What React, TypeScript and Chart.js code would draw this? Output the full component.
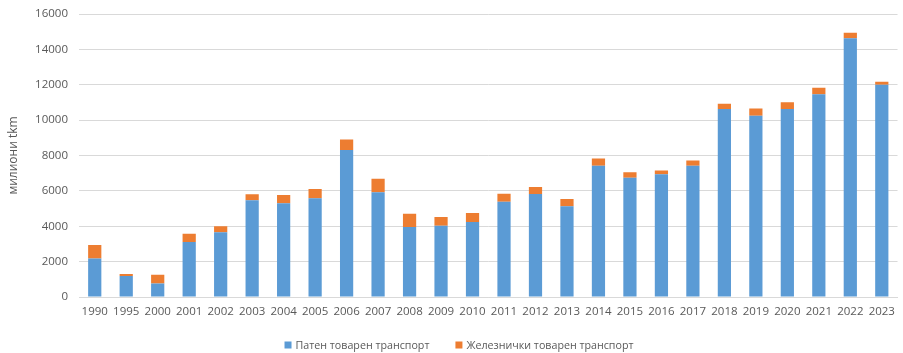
import React, { useEffect, useRef } from 'react';
import { Chart, registerables } from 'chart.js';

Chart.register(...registerables);

const years = ['1990', '1995', '2000', '2001', '2002', '2003', '2004', '2005', '2006', '2007', '2008', '2009', '2010', '2011', '2012', '2013', '2014', '2015', '2016', '2017', '2018', '2019', '2020', '2021', '2022', '2023'];
const roadFreight = [2170, 1190, 760, 3110, 3655, 5465, 5296, 5578, 8310, 5917, 3957, 4032, 4240, 5389, 5823, 5125, 7424, 6746, 6934, 7424, 10628, 10251, 10628, 11456, 14622, 12003];
const railFreight = [770, 110, 500, 470, 340, 340, 470, 530, 600, 770, 750, 490, 510, 450, 400, 415, 400, 300, 225, 300, 300, 400, 380, 380, 320, 170];
const seriesNames = ['Патен товарен транспорт', 'Железнички товарен транспорт'];
const seriesColors = ['#5B9BD5', '#ED7D31'];
const yTitle = 'милиони tkm';

const FONT = '"Open Sans", "Noto Sans", sans-serif';
const TEXT = '#595959';

const legendPlugin = {
  id: 'bottomLegend',
  afterDraw(chart: any) {
    const ctx = chart.ctx;
    ctx.save();
    ctx.font = `10.7px ${FONT}`;
    ctx.textBaseline = 'middle';
    ctx.textAlign = 'left';
    const box = 7;
    const gapBoxText = 4;
    const gapItems = 26;
    const items = chart.data.datasets.map((d: any) => ({
      label: d.label,
      color: d.backgroundColor,
      w: box + gapBoxText + ctx.measureText(d.label).width,
    }));
    const total = items.reduce((s: number, it: any) => s + it.w, 0) + gapItems * (items.length - 1);
    let x = 459 - total / 2;
    const y = 345;
    items.forEach((it: any) => {
      ctx.fillStyle = it.color;
      ctx.fillRect(x, y - box / 2, box, box);
      ctx.fillStyle = TEXT;
      ctx.fillText(it.label, x + box + gapBoxText, y + 0.5);
      x += it.w + gapItems;
    });
    ctx.restore();
  },
};

export default function App() {
  const ref = useRef<HTMLCanvasElement | null>(null);
  useEffect(() => {
    if (!ref.current) return;
    const chart = new Chart(ref.current, {
      type: 'bar',
      data: {
        labels: years,
        datasets: [
          { label: seriesNames[0], data: roadFreight, backgroundColor: seriesColors[0], barPercentage: 0.42, categoryPercentage: 1 },
          { label: seriesNames[1], data: railFreight, backgroundColor: seriesColors[1], barPercentage: 0.42, categoryPercentage: 1 },
        ],
      },
      options: {
        animation: false,
        responsive: true,
        maintainAspectRatio: false,
        layout: { padding: { top: 14, right: 3, bottom: 35, left: 0 } },
        plugins: {
          legend: { display: false },
          tooltip: { enabled: false },
        },
        scales: {
          x: {
            stacked: true,
            grid: { display: false, drawTicks: false },
            border: { display: true, color: '#D9D9D9', width: 1 },
            ticks: { color: TEXT, font: { family: FONT, size: 11.5 }, padding: 8, maxRotation: 0, autoSkip: false },
            afterFit: (scale: any) => { scale.height = 21; },
          },
          y: {
            stacked: true,
            min: 0,
            max: 16000,
            grid: { color: '#D9D9D9', lineWidth: 1, drawTicks: false },
            border: { display: false },
            ticks: {
              stepSize: 2000,
              color: TEXT,
              font: { family: FONT, size: 11.5 },
              padding: 11,
              callback: (v: any) => String(v),
            },
            title: { display: true, text: yTitle, color: TEXT, font: { family: FONT, size: 12 }, padding: { top: 6, bottom: 0 } },
            afterFit: (scale: any) => {
              scale.width = 79;
              scale.paddingTop = 0;
              scale.paddingBottom = 0;
            },
          },
        },
      },
      plugins: [legendPlugin],
    });
    return () => chart.destroy();
  }, []);
  return (
    <div style={{ position: 'fixed', left: 0, top: 0, width: 903, height: 353, background: '#fff' }}>
      <canvas ref={ref} />
    </div>
  );
}
